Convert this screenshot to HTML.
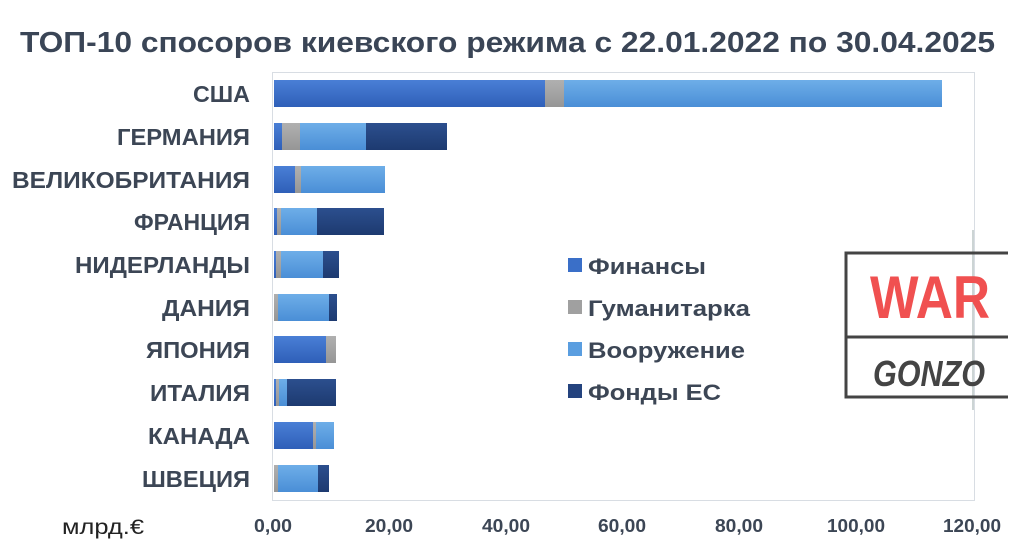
<!DOCTYPE html>
<html><head><meta charset="utf-8"><style>
body{margin:0;width:1024px;height:552px;background:#fff;overflow:hidden;font-family:"Liberation Sans",sans-serif;}
</style></head><body>
<svg width="1024" height="552" xmlns="http://www.w3.org/2000/svg" font-family="Liberation Sans, sans-serif">
<defs>
<linearGradient id="b" x1="0" y1="0" x2="0" y2="1"><stop offset="0" stop-color="#4a7fd6"/><stop offset="1" stop-color="#2f5fb8"/></linearGradient>
<linearGradient id="l" x1="0" y1="0" x2="0" y2="1"><stop offset="0" stop-color="#6eaee8"/><stop offset="1" stop-color="#4a8ed6"/></linearGradient>
<linearGradient id="d" x1="0" y1="0" x2="0" y2="1"><stop offset="0" stop-color="#2c4f8e"/><stop offset="1" stop-color="#1d3a70"/></linearGradient>
<linearGradient id="g" x1="0" y1="0" x2="0" y2="1"><stop offset="0" stop-color="#b0b0b0"/><stop offset="1" stop-color="#969696"/></linearGradient>
</defs>
<text x="20" y="52" font-size="29" font-weight="bold" fill="#3a4556" textLength="975" lengthAdjust="spacingAndGlyphs">ТОП-10 спосоров киевского режима с 22.01.2022 по 30.04.2025</text>
<rect x="272.5" y="72.5" width="702" height="428" fill="none" stroke="#d8dde3"/>
<g font-size="23" font-weight="bold" fill="#3c4655">
<text x="193" y="102" textLength="57" lengthAdjust="spacingAndGlyphs">США</text>
<text x="117" y="145" textLength="133" lengthAdjust="spacingAndGlyphs">ГЕРМАНИЯ</text>
<text x="12" y="188" textLength="238" lengthAdjust="spacingAndGlyphs">ВЕЛИКОБРИТАНИЯ</text>
<text x="134" y="230" textLength="116" lengthAdjust="spacingAndGlyphs">ФРАНЦИЯ</text>
<text x="75" y="273" textLength="175" lengthAdjust="spacingAndGlyphs">НИДЕРЛАНДЫ</text>
<text x="162" y="316" textLength="88" lengthAdjust="spacingAndGlyphs">ДАНИЯ</text>
<text x="146" y="358" textLength="104" lengthAdjust="spacingAndGlyphs">ЯПОНИЯ</text>
<text x="150" y="401" textLength="100" lengthAdjust="spacingAndGlyphs">ИТАЛИЯ</text>
<text x="148" y="444" textLength="102" lengthAdjust="spacingAndGlyphs">КАНАДА</text>
<text x="142" y="487" textLength="108" lengthAdjust="spacingAndGlyphs">ШВЕЦИЯ</text>
</g>
<g>
<rect x="274" y="80" width="271" height="27" fill="url(#b)"/><rect x="545" y="80" width="19" height="27" fill="url(#g)"/><rect x="564" y="80" width="378" height="27" fill="url(#l)"/>
<rect x="274" y="123" width="8" height="27" fill="url(#b)"/><rect x="282" y="123" width="18" height="27" fill="url(#g)"/><rect x="300" y="123" width="66" height="27" fill="url(#l)"/><rect x="366" y="123" width="81" height="27" fill="url(#d)"/>
<rect x="274" y="166" width="21" height="27" fill="url(#b)"/><rect x="295" y="166" width="6" height="27" fill="url(#g)"/><rect x="301" y="166" width="84" height="27" fill="url(#l)"/>
<rect x="274" y="208" width="3" height="27" fill="url(#b)"/><rect x="277" y="208" width="4" height="27" fill="url(#g)"/><rect x="281" y="208" width="36" height="27" fill="url(#l)"/><rect x="317" y="208" width="67" height="27" fill="url(#d)"/>
<rect x="274" y="251" width="2" height="27" fill="url(#b)"/><rect x="276" y="251" width="5" height="27" fill="url(#g)"/><rect x="281" y="251" width="42" height="27" fill="url(#l)"/><rect x="323" y="251" width="16" height="27" fill="url(#d)"/>
<rect x="274" y="294" width="4" height="27" fill="url(#g)"/><rect x="278" y="294" width="51" height="27" fill="url(#l)"/><rect x="329" y="294" width="8" height="27" fill="url(#d)"/>
<rect x="274" y="336" width="52" height="27" fill="url(#b)"/><rect x="326" y="336" width="10" height="27" fill="url(#g)"/>
<rect x="274" y="379" width="2" height="27" fill="url(#b)"/><rect x="276" y="379" width="3" height="27" fill="url(#g)"/><rect x="279" y="379" width="8" height="27" fill="url(#l)"/><rect x="287" y="379" width="49" height="27" fill="url(#d)"/>
<rect x="274" y="422" width="39" height="27" fill="url(#b)"/><rect x="313" y="422" width="3" height="27" fill="url(#g)"/><rect x="316" y="422" width="18" height="27" fill="url(#l)"/>
<rect x="274" y="465" width="4" height="27" fill="url(#g)"/><rect x="278" y="465" width="40" height="27" fill="url(#l)"/><rect x="318" y="465" width="11" height="27" fill="url(#d)"/>
</g>
<g font-size="22" font-weight="bold" fill="#3c4655">
<rect x="568" y="258" width="14" height="14" fill="#3a6fc8"/><text x="588" y="274" textLength="118" lengthAdjust="spacingAndGlyphs">Финансы</text>
<rect x="568" y="300" width="14" height="14" fill="#a0a0a0"/><text x="588" y="316" textLength="162" lengthAdjust="spacingAndGlyphs">Гуманитарка</text>
<rect x="568" y="342" width="14" height="14" fill="#5a9ee0"/><text x="588" y="358" textLength="157" lengthAdjust="spacingAndGlyphs">Вооружение</text>
<rect x="568" y="384" width="14" height="14" fill="#24437e"/><text x="588" y="400" textLength="133" lengthAdjust="spacingAndGlyphs">Фонды ЕС</text>
</g>
<g font-size="18" font-weight="bold" fill="#3c4655" text-anchor="middle">
<text x="273" y="532" textLength="38" lengthAdjust="spacingAndGlyphs">0,00</text><text x="389" y="532" textLength="48" lengthAdjust="spacingAndGlyphs">20,00</text><text x="506" y="532" textLength="48" lengthAdjust="spacingAndGlyphs">40,00</text><text x="622" y="532" textLength="48" lengthAdjust="spacingAndGlyphs">60,00</text><text x="739" y="532" textLength="48" lengthAdjust="spacingAndGlyphs">80,00</text><text x="856" y="532" textLength="58" lengthAdjust="spacingAndGlyphs">100,00</text><text x="972" y="532" textLength="58" lengthAdjust="spacingAndGlyphs">120,00</text>
</g>
<text x="62" y="534" font-size="21" fill="#222" textLength="82" lengthAdjust="spacingAndGlyphs">млрд.€</text>
<line x1="973" y1="230" x2="973" y2="410" stroke="#9aa" stroke-width="1"/>
<g stroke="#444" stroke-width="3" fill="none">
<path d="M1008,253 H846 V397 H1008"/><line x1="846" y1="337" x2="1008" y2="337"/>
</g>
<text x="870" y="318" font-size="60" font-weight="bold" fill="#f05050" textLength="120" lengthAdjust="spacingAndGlyphs">WAR</text>
<text x="873" y="386" font-size="36" font-weight="bold" font-style="italic" fill="#444" textLength="112" lengthAdjust="spacingAndGlyphs">GONZO</text>
</svg>
</body></html>
